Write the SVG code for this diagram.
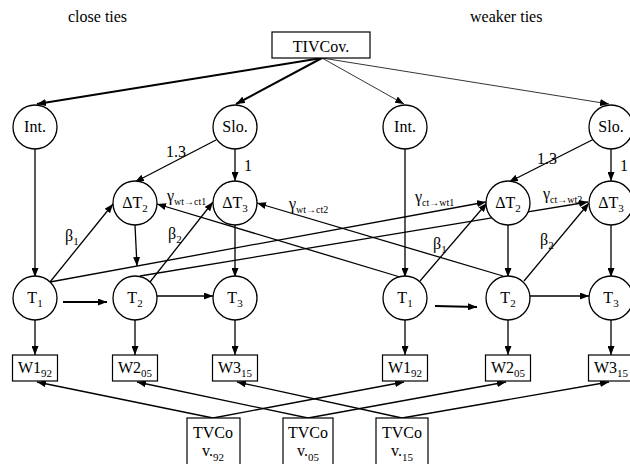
<svg xmlns="http://www.w3.org/2000/svg" width="630" height="464" viewBox="0 0 630 464">
<defs>
<marker id="ah" markerUnits="userSpaceOnUse" markerWidth="9" markerHeight="7" refX="9" refY="3.5" orient="auto"><path d="M0,0 L9,3.5 L0,7 z" fill="#000"/></marker>
<style>
.t{font-family:"Liberation Serif","Times New Roman",serif;font-size:16px;fill:#000}
.s{font-size:11px}
.g{font-size:10px}
.n circle{fill:#fff;stroke:#000;stroke-width:1.3}
.n rect{fill:#fff;stroke:#000;stroke-width:1.2}
#edges line{stroke:#000;stroke-width:1.3;marker-end:url(#ah)}
#edges line.k{stroke-width:2}
#edges line.f{stroke-width:0.8}
</style>
</defs>
<rect width="630" height="464" fill="#fff"/>
<text class="t" x="68" y="22">close ties</text>
<text class="t" x="470" y="22">weaker ties</text>
<g id="edges">
<line class="k" x1="322" y1="58" x2="37" y2="104"/>
<line class="k" x1="322" y1="58" x2="236" y2="104"/>
<line class="f" x1="322" y1="58" x2="404" y2="104"/>
<line class="f" x1="322" y1="58" x2="609" y2="104"/>
<line x1="216" y1="140" x2="135" y2="182"/>
<line x1="235" y1="149" x2="235" y2="181"/>
<line x1="594" y1="139" x2="509" y2="182"/>
<line x1="611" y1="149" x2="611" y2="181"/>
<line x1="35" y1="149" x2="35" y2="277"/>
<line x1="405" y1="149" x2="405" y2="277"/>
<line x1="135" y1="225" x2="137" y2="266"/>
<line x1="235" y1="225" x2="235" y2="277"/>
<line x1="508" y1="225" x2="508" y2="277"/>
<line x1="611" y1="225" x2="611" y2="277"/>
<line x1="50" y1="282" x2="113" y2="204"/>
<line x1="150" y1="282" x2="213" y2="202"/>
<line x1="420" y1="281" x2="487" y2="203"/>
<line x1="524" y1="281" x2="589" y2="203"/>
<line x1="400" y1="277" x2="157" y2="204"/>
<line x1="503" y1="276" x2="257" y2="203"/>
<line x1="50" y1="282" x2="486" y2="202"/>
<line x1="140" y1="276" x2="588" y2="202"/>
<line class="k" x1="63" y1="302" x2="107" y2="302"/>
<line x1="157" y1="296" x2="213" y2="296"/>
<line class="k" x1="435" y1="306" x2="477" y2="307"/>
<line x1="530" y1="296" x2="589" y2="296"/>
<line x1="35" y1="320" x2="35" y2="355"/>
<line x1="135" y1="320" x2="135" y2="355"/>
<line x1="235" y1="320" x2="235" y2="355"/>
<line x1="405" y1="320" x2="405" y2="355"/>
<line x1="508" y1="320" x2="508" y2="355"/>
<line x1="611" y1="320" x2="611" y2="355"/>
<line x1="213" y1="418" x2="37" y2="382"/>
<line x1="213" y1="418" x2="404" y2="382"/>
<line x1="308" y1="418" x2="137" y2="382"/>
<line x1="308" y1="418" x2="506" y2="382"/>
<line x1="402" y1="418" x2="237" y2="382"/>
<line x1="402" y1="418" x2="609" y2="382"/>
</g>
<g class="t">
<text x="166" y="157">1.3</text>
<text x="244" y="171">1</text>
<text x="537" y="164">1.3</text>
<text x="620" y="171">1</text>
<text x="65" y="241">β<tspan class="s" dy="4">1</tspan></text>
<text x="168" y="239">β<tspan class="s" dy="4">2</tspan></text>
<text x="433" y="249">β<tspan class="s" dy="4">1</tspan></text>
<text x="540" y="245">β<tspan class="s" dy="4">2</tspan></text>
<text x="167" y="201">γ<tspan class="g" dy="4">wt→ct1</tspan></text>
<text x="289" y="209">γ<tspan class="g" dy="4">wt→ct2</tspan></text>
<text x="415" y="202">γ<tspan class="g" dy="4">ct→wt1</tspan></text>
<text x="543" y="199">γ<tspan class="g" dy="4">ct→wt2</tspan></text>
</g>
<g id="TIVCov" class="n"><rect x="272" y="32" width="98" height="26"/><text class="t" x="321" y="52" text-anchor="middle">TIVCov.</text></g>
<g id="IntL" class="n"><circle cx="35" cy="127" r="22"/><text class="t" x="35" y="132" text-anchor="middle">Int.</text></g>
<g id="SloL" class="n"><circle cx="235" cy="127" r="22"/><text class="t" x="235" y="132" text-anchor="middle">Slo.</text></g>
<g id="IntR" class="n"><circle cx="405" cy="127" r="22"/><text class="t" x="405" y="132" text-anchor="middle">Int.</text></g>
<g id="SloR" class="n"><circle cx="611" cy="127" r="22"/><text class="t" x="611" y="132" text-anchor="middle">Slo.</text></g>
<g id="dT2L" class="n"><circle cx="135" cy="203" r="22"/><text class="t" x="135" y="208" text-anchor="middle">ΔT<tspan class="s" dy="4">2</tspan></text></g>
<g id="dT3L" class="n"><circle cx="235" cy="203" r="22"/><text class="t" x="235" y="208" text-anchor="middle">ΔT<tspan class="s" dy="4">3</tspan></text></g>
<g id="dT2R" class="n"><circle cx="508" cy="203" r="22"/><text class="t" x="508" y="208" text-anchor="middle">ΔT<tspan class="s" dy="4">2</tspan></text></g>
<g id="dT3R" class="n"><circle cx="611" cy="203" r="22"/><text class="t" x="611" y="208" text-anchor="middle">ΔT<tspan class="s" dy="4">3</tspan></text></g>
<g id="T1L" class="n"><circle cx="35" cy="298" r="22"/><text class="t" x="35" y="303" text-anchor="middle">T<tspan class="s" dy="4">1</tspan></text></g>
<g id="T2L" class="n"><circle cx="135" cy="298" r="22"/><text class="t" x="135" y="303" text-anchor="middle">T<tspan class="s" dy="4">2</tspan></text></g>
<g id="T3L" class="n"><circle cx="235" cy="298" r="22"/><text class="t" x="235" y="303" text-anchor="middle">T<tspan class="s" dy="4">3</tspan></text></g>
<g id="T1R" class="n"><circle cx="405" cy="298" r="22"/><text class="t" x="405" y="303" text-anchor="middle">T<tspan class="s" dy="4">1</tspan></text></g>
<g id="T2R" class="n"><circle cx="508" cy="298" r="22"/><text class="t" x="508" y="303" text-anchor="middle">T<tspan class="s" dy="4">2</tspan></text></g>
<g id="T3R" class="n"><circle cx="611" cy="298" r="22"/><text class="t" x="611" y="303" text-anchor="middle">T<tspan class="s" dy="4">3</tspan></text></g>
<g id="W1L" class="n"><rect x="12.5" y="355" width="45" height="26"/><text class="t" x="35" y="373" text-anchor="middle">W1<tspan class="s" dy="4">92</tspan></text></g>
<g id="W2L" class="n"><rect x="112.5" y="355" width="45" height="26"/><text class="t" x="135" y="373" text-anchor="middle">W2<tspan class="s" dy="4">05</tspan></text></g>
<g id="W3L" class="n"><rect x="212.5" y="355" width="45" height="26"/><text class="t" x="235" y="373" text-anchor="middle">W3<tspan class="s" dy="4">15</tspan></text></g>
<g id="W1R" class="n"><rect x="382.5" y="355" width="45" height="26"/><text class="t" x="405" y="373" text-anchor="middle">W1<tspan class="s" dy="4">92</tspan></text></g>
<g id="W2R" class="n"><rect x="485.5" y="355" width="45" height="26"/><text class="t" x="508" y="373" text-anchor="middle">W2<tspan class="s" dy="4">05</tspan></text></g>
<g id="W3R" class="n"><rect x="588.5" y="355" width="45" height="26"/><text class="t" x="611" y="373" text-anchor="middle">W3<tspan class="s" dy="4">15</tspan></text></g>
<g id="TVCov92" class="n"><rect x="187" y="418" width="53" height="60"/><text class="t" x="213" y="438" text-anchor="middle">TVCo</text><text class="t" x="213" y="456" text-anchor="middle">v.<tspan class="s" dy="5">92</tspan></text></g>
<g id="TVCov05" class="n"><rect x="283" y="418" width="50" height="60"/><text class="t" x="308" y="438" text-anchor="middle">TVCo</text><text class="t" x="308" y="456" text-anchor="middle">v.<tspan class="s" dy="5">05</tspan></text></g>
<g id="TVCov15" class="n"><rect x="376" y="418" width="52" height="60"/><text class="t" x="402" y="438" text-anchor="middle">TVCo</text><text class="t" x="402" y="456" text-anchor="middle">v.<tspan class="s" dy="5">15</tspan></text></g>
</svg>
